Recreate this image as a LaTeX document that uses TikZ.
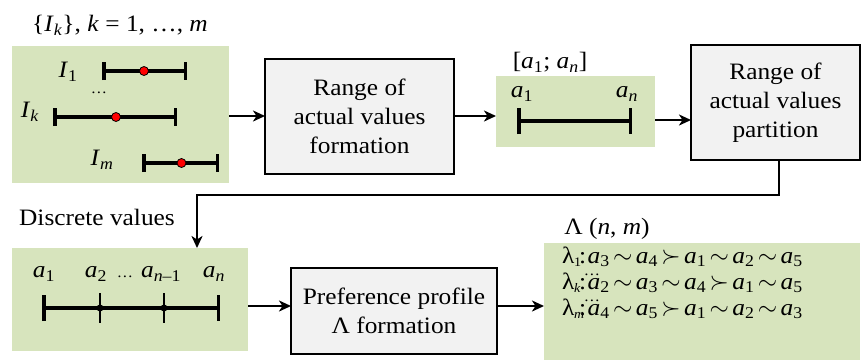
\documentclass[tikz,border=0pt]{standalone}
\usepackage{fontspec}
\setmainfont{Liberation Serif}[FakeStretch=1.08]
\usetikzlibrary{arrows.meta}

\definecolor{panelgreen}{HTML}{D7E4BD}
\definecolor{boxgray}{HTML}{F2F2F2}

% italic variable with an optional subscript
\newcommand\av[1]{\textit{a}\textsubscript{#1}}
\newcommand\eqv{\kern3.4pt$\sim$\kern3.4pt}
\newcommand\pref{\kern3.4pt$\succ$\kern3.4pt}
% ranking label: small tight subscript, colon at a fixed place
\newcommand\lam[1]{\makebox[17pt][l]{λ\kern-0.5pt\raisebox{-3.5pt}{\fontsize{13}{13}\selectfont #1}}\makebox[8.5pt][l]{:}}

\tikzset{
  panel/.style={fill=panelgreen, inner sep=0pt, outer sep=0pt},
  procbox/.style={draw=black, line width=2.8pt, fill=boxgray, align=center,
    inner sep=0pt, outer sep=0pt,
    font=\fontsize{23.5}{29}\selectfont},
  lbl/.style={inner sep=0pt, font=\fontsize{23.5}{28}\selectfont},
  smalldots/.style={inner sep=0pt, font=\fontsize{15}{16}\selectfont},
  conn/.style={line width=2pt, -{Stealth[length=12pt,width=11pt,inset=3.5pt]}},
  interval/.style={line width=3.5pt, {Bar[width=18pt]}-{Bar[width=18pt]}},
  interval2/.style={line width=3.5pt, {Bar[width=26pt]}-{Bar[width=26pt]}},
  centre/.style={circle, fill=red, draw=black, line width=0.8pt,
    inner sep=0pt, minimum size=9pt},
  node dot/.style={circle, fill=black, inner sep=0pt, minimum size=7pt},
}

\begin{document}
\begin{tikzpicture}[x=1pt, y=-1pt]
\useasboundingbox (0,0) rectangle (862,360);

% ---------- panels ----------
\node[panel, minimum width=217pt, minimum height=137pt] (g1) at (120.5,114.5) {};
\node[panel, minimum width=159pt, minimum height=71pt] (g2) at (575.5,111.5) {};
\node[panel, minimum width=236pt, minimum height=103pt] (g3) at (130,299.5) {};
\node[panel, minimum width=316pt, minimum height=117pt] (g4) at (702,301.5) {};

% ---------- process boxes ----------
\node[procbox, minimum width=189pt, minimum height=115pt] (form) at (359.5,116.5)
  {Range of\\actual values\\formation};
\node[procbox, minimum width=169pt, minimum height=115pt] (part) at (775.5,102.5)
  {Range of\\actual values\\partition};
\node[procbox, minimum width=206pt, minimum height=86pt] (prof) at (394,311)
  {Preference profile\\Λ formation};

% ---------- interval set ----------
\node[lbl] (title) at (120,25)
  {\{\textit{I}\textsubscript{\textit{k}}\}, \textit{k} = 1, …, \textit{m}};
\node[lbl] (i1) at (68,72) {\textit{I}\textsubscript{1}};
\node[smalldots] (idots) at (99,93) {…};
\node[lbl] (ik) at (30,112) {\textit{I}\textsubscript{\textit{k}}};
\node[lbl] (im) at (102,160) {\textit{I}\textsubscript{\textit{m}}};
\coordinate (i1a) at (102,71);   \coordinate (i1b) at (187,71);
\coordinate (ika) at (53,117);   \coordinate (ikb) at (177,117);
\coordinate (ima) at (142,163);  \coordinate (imb) at (219,163);
\draw[interval] (i1a) -- (i1b);
\draw[interval] (ika) -- (ikb);
\draw[interval] (ima) -- (imb);
\node[centre] (c1) at (144,71) {};
\node[centre] (ck) at (116,117) {};
\node[centre] (cm) at (181.5,163) {};

% ---------- actual range ----------
\node[lbl] (rng) at (550,62) {[\av{1}; \av{\textit{n}}]};
\node[lbl] (ra1) at (522,94) {\av{1}};
\node[lbl] (ran) at (627,94) {\av{\textit{n}}};
\coordinate (ra) at (517,121); \coordinate (rb) at (632,121);
\draw[interval2] (ra) -- (rb);

% ---------- discrete values ----------
\node[lbl] (disc) at (97,217) {Discrete values};
\node[lbl] (d1) at (44,274) {\av{1}};
\node[lbl] (d2) at (96,274) {\av{2}};
\node[smalldots] (ddots) at (125,277) {…};
\node[lbl] (dn1) at (161,274) {\av{\textit{n}–1}};
\node[lbl] (dn) at (214,274) {\av{\textit{n}}};
\coordinate (da) at (42,308); \coordinate (db) at (220,308);
\draw[interval2] (da) -- (db);
\draw[line width=1.6pt] (100,293) -- (100,323);
\draw[line width=1.6pt] (164,293) -- (164,323);
\node[node dot] (p2) at (100,308) {};
\node[node dot] (pn1) at (164,308) {};

% ---------- preference profile ----------
\node[lbl] (lamnm) at (607,229) {Λ (\textit{n}, \textit{m})};
\node[lbl, anchor=base west] (l1) at (562,263)
  {\lam{1}\av{3}\eqv\av{4}\pref\av{1}\eqv\av{2}\eqv\av{5}};
\node[lbl, anchor=base west] (lk) at (562,289)
  {\lam{\textit{k}}\av{2}\eqv\av{3}\eqv\av{4}\pref\av{1}\eqv\av{5}};
\node[lbl, anchor=base west] (lm) at (562,315)
  {\lam{\textit{m}}\av{4}\eqv\av{5}\pref\av{1}\eqv\av{2}\eqv\av{3}};
\node[smalldots] (ld1) at (592,275) {…};
\node[smalldots] (ld2) at (592,301) {…};

% ---------- connectors ----------
\draw[conn] (g1.east |- 0,116) -- (form.west |- 0,116);
\draw[conn] (form.east |- 0,116) -- (g2.west |- 0,116);
\draw[conn] (g2.east |- 0,120) -- (part.west |- 0,120);
\draw[conn] (part.south -| 779,0) |- (197,195) -- (g3.north -| 197,0);
\draw[conn] (g3.east |- 0,306) -- (prof.west |- 0,306);
\draw[conn] (prof.east |- 0,306) -- (g4.west |- 0,306);
\end{tikzpicture}
\end{document}
